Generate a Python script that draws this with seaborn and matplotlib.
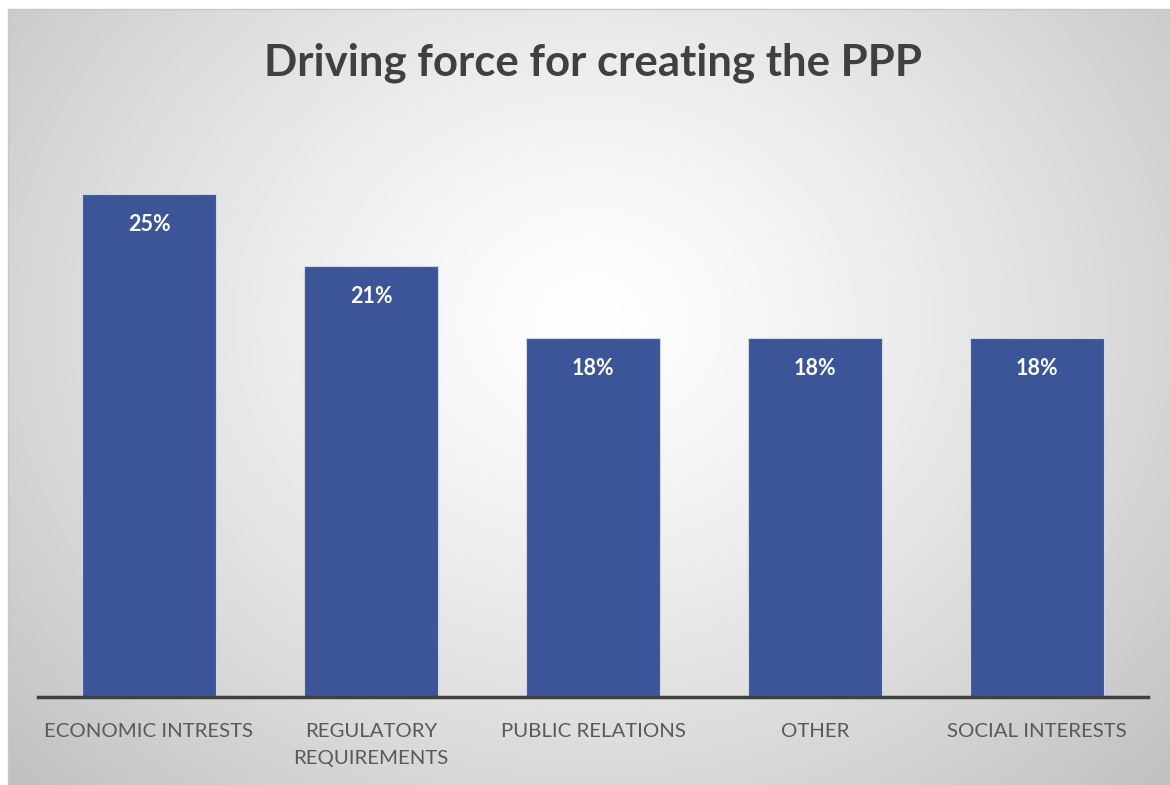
import numpy as np
import pandas as pd
import matplotlib
matplotlib.use("Agg")
import matplotlib.pyplot as plt
import seaborn as sns

categories = ["ECONOMIC INTRESTS", "REGULATORY\nREQUIREMENTS", "PUBLIC RELATIONS", "OTHER", "SOCIAL INTERESTS"]
values = [25.0, 21.43, 17.86, 17.86, 17.86]
labels = ["25%", "21%", "18%", "18%", "18%"]

sns.set_theme(style="white")
plt.rcParams['font.family'] = ['Lato', 'DejaVu Sans']

W, H = 1170, 785
fig = plt.figure(figsize=(W / 100, H / 100), dpi=100)

# radial gradient background
bg = fig.add_axes([0, 0, 1, 1], zorder=0)
yy, xx = np.mgrid[0:H, 0:W]
cx, cy = 590, 320
r = np.sqrt(((xx - cx) / 1.0) ** 2 + ((yy - cy) / 0.85) ** 2)
r = r / r.max()
g = 1.0 - 0.25 * np.clip(r, 0, 1) ** 1.3
img = np.dstack([g, g, g])
img[:9, :, :] = 1.0
img[:, :8, :] = 1.0
bg.imshow(img, aspect="auto", extent=[0, W, H, 0], interpolation="bilinear")
bg.plot([8, W], [9, 9], color="#c8c8c8", lw=1)
bg.plot([8, 8], [9, H], color="#c8c8c8", lw=1)
bg.set_xlim(0, W)
bg.set_ylim(H, 0)
bg.axis("off")

left = 38 / W
right = 1148 / W
bottom = 1 - 697 / H
top = 1 - 130 / H
ax = fig.add_axes([left, bottom, right - left, top - bottom], zorder=1)
ax.patch.set_alpha(0)

df = pd.DataFrame({"cat": categories, "val": values})
sns.barplot(data=df, x="cat", y="val", ax=ax, color="#3B5598", saturation=1,
            width=0.604, edgecolor="#d0d6e6", linewidth=0.8)
ax.set_ylim(0, (697 - 130) / 20.12)
ax.set_xlim(-0.5, 4.5)

for i, (v, lab) in enumerate(zip(values, labels)):
    ax.text(i, v - 1.0, lab, ha="center", va="top", color="white",
            fontsize=15.5, fontweight="bold")

ax.set_xlabel("")
ax.set_ylabel("")
ax.set_yticks([])
ax.tick_params(axis="x", length=0, pad=19, labelsize=14.7, labelcolor="#595959")
for t in ax.get_xticklabels():
    t.set_linespacing(1.7)
for s in ["top", "right", "left"]:
    ax.spines[s].set_visible(False)
ax.spines["bottom"].set_color("#404040")
ax.spines["bottom"].set_linewidth(2.5)

fig.text(593 / W, 1 - 63 / H, "Driving force for creating the PPP", ha="center", va="center",
         fontsize=31.5, fontweight="bold", color="#404040")

fig.savefig("out.png", dpi=100)
